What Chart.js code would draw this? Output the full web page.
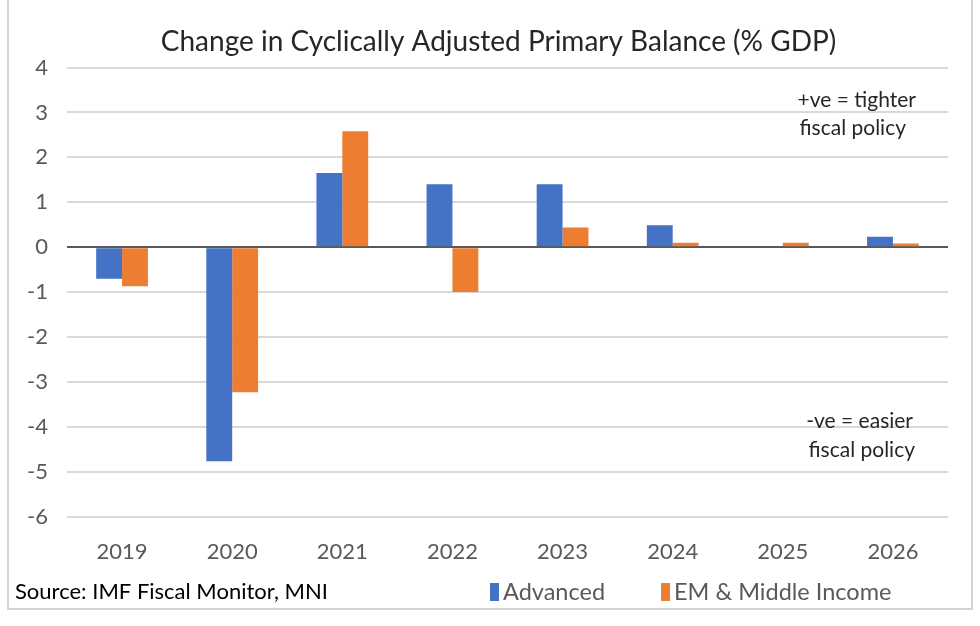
<!DOCTYPE html>
<html>
<head>
    <title></title>
    <meta charset="utf-8" />
    <style>
    body { margin: 0; background: #fff; }
    #box { position: absolute; left: 7px; top: -2px; width: 962px; height: 608px; border: 2px solid #d4d4d4; }
    #myChart { position: absolute; left: 0; top: 0; }
    </style>
    <script src="https://cdn.jsdelivr.net/npm/chart.js"></script>
</head>
<body>
<div id="box"><canvas id="myChart" width="962" height="608"></canvas></div>
<script>
let years = ['2019', '2020', '2021', '2022', '2023', '2024', '2025', '2026'];
let advanced = [-0.7, -4.77, 1.65, 1.4, 1.4, 0.49, 0, 0.23];
let emMiddle = [-0.87, -3.23, 2.58, -1.0, 0.44, 0.1, 0.1, 0.08];
let yTicks = [4, 3, 2, 1, 0, -1, -2, -3, -4, -5, -6];

let font = 'Lato, "Open Sans", sans-serif';

// notes, source line and the legend row at the bottom
let notes = {
    id: 'notes',
    afterLayout(chart) {
        // title sits centred over the plot, not the whole canvas
        chart.titleBlock.left += 20;
        chart.titleBlock.right += 20;
    },
    afterDraw(chart) {
        let c = chart.ctx, y = chart.scales.y, right = chart.chartArea.right;
        c.save();
        c.font = '21px ' + font;
        c.fillStyle = '#262626';
        c.textAlign = 'right';
        c.textBaseline = 'middle';
        c.fillText('+ve = tighter', right - 32, y.getPixelForValue(3.28));
        c.fillText('fiscal policy', right - 42, y.getPixelForValue(2.66));
        c.fillText('-ve = easier', right - 35, y.getPixelForValue(-3.88));
        c.fillText('fiscal policy', right - 33, y.getPixelForValue(-4.53));

        c.textAlign = 'left';
        c.font = '22px ' + font;
        c.fillStyle = '#000';
        c.fillText('Source: IMF Fiscal Monitor, MNI', 6, 592);

        let x = 481;
        c.font = '23.5px ' + font;
        chart.data.datasets.forEach(ds => {
            c.fillStyle = ds.backgroundColor;
            c.fillRect(x, 583, 9, 18);
            c.fillStyle = '#595959';
            c.fillText(ds.label, x + 13, 592);
            x += 13 + c.measureText(ds.label).width + 56;
        });
        c.restore();
    }
};

let ctx = document.getElementById('myChart').getContext('2d');
let myChart = new Chart(ctx, {
    type: 'bar',
    data: {
        labels: years,
        datasets: [
            { label: 'Advanced', data: advanced, backgroundColor: '#4472c4' },
            { label: 'EM & Middle Income', data: emMiddle, backgroundColor: '#ed7d31' }
        ]
    },
    options: {
        responsive: false,
        animation: false,
        layout: { padding: { left: 0, right: 23, top: 10, bottom: 29 } },
        datasets: { bar: { categoryPercentage: 0.47, barPercentage: 1 } },
        plugins: {
            title: {
                display: true,
                text: 'Change in Cyclically Adjusted Primary Balance (% GDP)',
                color: '#262626',
                font: { family: font, size: 28, weight: 'normal' },
                padding: { top: 15, bottom: 9 }
            },
            legend: { display: false },
            tooltip: { enabled: false }
        },
        scales: {
            x: {
                grid: { display: false },
                border: { display: false },
                ticks: { color: '#595959', font: { family: font, size: 22 }, padding: 14 }
            },
            y: {
                min: -6,
                max: 4,
                afterBuildTicks: s => { s.ticks = yTicks.map(v => ({ value: v })); },
                afterFit: s => { s.width = 58; },
                grid: {
                    color: c => c.tick.value === 0 ? '#595959' : '#d9d9d9',
                    lineWidth: 2,
                    drawTicks: false
                },
                border: { display: false },
                ticks: { color: '#595959', font: { family: font, size: 22 }, padding: 19 }
            }
        }
    },
    plugins: [notes]
});
</script>
</body>
</html>
